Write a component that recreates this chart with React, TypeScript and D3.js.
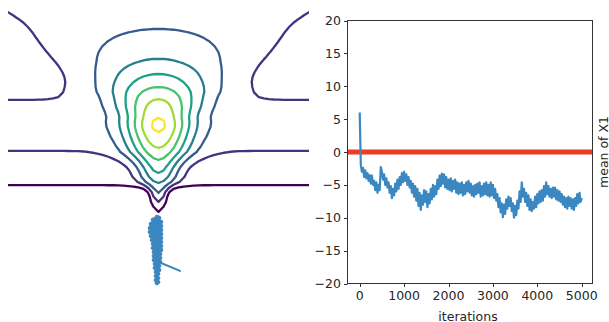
import React, { useMemo } from "react";
import * as d3 from "d3";

// ---------- Right panel data: running mean of X1 (one reading every 25 iterations) ----------
const TRACE_STEP = 25;
const traceMean = [
  6.0, -2.0, -3.0, -2.4, -3.8, -2.8, -4.0, -3.2, -4.4, -3.5,
  -4.8, -3.6, -5.0, -4.4, -5.8, -4.6, -6.2, -5.0, -5.8, -2.3,
  -3.0, -4.2, -3.4, -5.0, -4.0, -5.4, -4.6, -6.2, -5.2, -7.0,
  -5.6, -6.6, -4.8, -6.0, -4.2, -5.6, -3.8, -5.0, -3.2, -4.6,
  -3.0, -4.4, -3.4, -5.0, -3.8, -5.4, -4.4, -6.2, -4.8, -6.8,
  -5.2, -7.4, -5.6, -8.2, -6.2, -8.8, -6.6, -8.0, -5.8, -7.6,
  -6.0, -8.4, -6.4, -7.8, -5.6, -7.2, -5.0, -6.8, -5.2, -6.4,
  -4.2, -5.6, -3.6, -5.2, -3.3, -4.8, -3.4, -5.4, -3.8, -5.6,
  -4.2, -5.8, -4.0, -6.0, -4.4, -5.6, -4.2, -6.2, -4.6, -6.4,
  -4.8, -6.2, -4.6, -6.6, -5.0, -6.4, -4.6, -6.0, -4.4, -6.2,
  -4.8, -6.6, -5.2, -6.8, -5.0, -6.4, -4.8, -6.2, -4.6, -6.8,
  -5.2, -6.6, -4.8, -6.4, -4.6, -6.6, -5.0, -6.8, -4.6, -6.6,
  -5.0, -7.0, -5.6, -7.4, -6.4, -8.4, -7.0, -9.2, -7.8, -9.9,
  -8.0, -9.4, -7.2, -8.6, -6.8, -8.2, -7.0, -9.0, -7.8, -10.0,
  -8.2, -9.6, -7.4, -8.6, -6.0, -7.6, -4.6, -6.8, -5.6, -7.6,
  -6.2, -8.2, -6.6, -8.8, -7.2, -9.0, -7.6, -8.6, -6.8, -8.4,
  -6.4, -7.8, -6.0, -7.6, -5.8, -7.4, -5.2, -6.8, -4.6, -6.4,
  -5.2, -6.8, -5.6, -7.0, -5.4, -6.8, -5.4, -7.2, -5.8, -7.4,
  -6.0, -7.6, -6.4, -8.0, -6.8, -8.4, -7.0, -8.6, -6.8, -8.2,
  -7.0, -8.6, -7.2, -8.8, -7.0, -8.2, -6.4, -7.8, -6.2, -7.6,
  -7.0,
];
const trueMean = 0;
const yTickValues = [-20, -15, -10, -5, 0, 5, 10, 15, 20];
const xTickValues = [0, 1000, 2000, 3000, 4000, 5000];
const xLabel = "iterations";
const yLabel = "mean of X1";

// ---------- Left panel: density model knots ----------
const contourLevels = [1, 2, 3, 4, 5, 6, 7, 8];
// density height along the centre line x2 = 0, as a function of x1
const centerKnotsV = [-11, -6, -4.0, -3.33, -2.73, -2.07, -1.4, -0.53, 0.27, 1.33, 1.8, 2.27, 3.53, 4.33, 5.2, 6.2, 8.2, 9.6, 11];
const centerHeight = [-2.5, 0, 1.0, 2.0, 3.0, 4.0, 5.0, 6.0, 7.0, 8.0, 8.25, 8.0, 7.0, 6.0, 5.0, 4.0, 3.0, 2.6, 2.3];
// density height far from the centre line
const farKnotsV = [-11, -4, -3.0, -2.6, -2.27, -1, 0.07, 1.8, 3.47, 5, 6.33, 8, 10, 11];
const farHeight = [-12, -5, -1.5, 0.0, 1.0, 1.5, 2.0, 2.45, 2.0, 1.5, 1.3, 0.9, 0.3, 0.0];
// horizontal spread of the funnel
const widthKnotsV = [-11, -3.53, -2.87, -2.53, -2.27, -1.87, -1.2, -0.53, 0.13, 1.8, 2.33, 3.0, 3.67, 4.13, 4.6, 5.47, 6.33, 8.0, 8.67, 9.47, 10.0, 11];
const widthSigma = [0.8, 0.8, 0.55, 0.5, 0.6, 0.95, 1.0, 1.2, 1.48, 1.6, 1.65, 1.93, 2.25, 2.58, 2.86, 3.47, 4.4, 7.2, 9.0, 12.3, 15.0, 20];

// sampler path (x2 horizontal, x1 vertical)
const sampleX2 = [
  -0.100, 0.033, -0.365, 0.166, -0.498, 0.166, -0.565, 0.166, -0.565, 0.166,
  -0.498, 0.166, -0.432, 0.166, -0.365, 0.166, -0.365, 0.166, -0.299, 0.100,
  -0.299, 0.100, -0.299, 0.100, -0.233, 0.033, -0.233, 0.033, -0.166, -0.033,
  -0.166, -0.033, -0.166, -0.033, -0.100,
];
const sampleX1 = [
  -4.333, -4.400, -4.533, -4.667, -4.800, -4.933, -5.067, -5.200, -5.333, -5.467,
  -5.600, -5.733, -5.867, -6.000, -6.133, -6.267, -6.400, -6.533, -6.667, -6.800,
  -6.933, -7.067, -7.200, -7.333, -7.467, -7.600, -7.733, -7.867, -8.000, -8.133,
  -8.267, -8.400, -8.533, -8.667, -8.733,
];
const startX2 = [1.43, 0.17];
const startX1 = [-7.93, -7.4];

const FONT = "DejaVu Sans";
const BLUE = "#3a87c1";
const RED = "#ec3d22";
const AX = "#333333";
const TXT = "#262626";

// monotone cubic (Fritsch–Carlson) through knots
function monotone(xs: number[], ys: number[]) {
  const n = xs.length;
  const h: number[] = [], d: number[] = [], m: number[] = new Array(n);
  for (let i = 0; i < n - 1; i++) {
    h[i] = xs[i + 1] - xs[i];
    d[i] = (ys[i + 1] - ys[i]) / h[i];
  }
  m[0] = d[0];
  m[n - 1] = d[n - 2];
  for (let i = 1; i < n - 1; i++) {
    if (d[i - 1] * d[i] <= 0) m[i] = 0;
    else {
      const w1 = 2 * h[i] + h[i - 1], w2 = h[i] + 2 * h[i - 1];
      m[i] = (w1 + w2) / (w1 / d[i - 1] + w2 / d[i]);
    }
  }
  return (x: number) => {
    if (x <= xs[0]) return ys[0];
    if (x >= xs[n - 1]) return ys[n - 1];
    let i = d3.bisectRight(xs, x) - 1;
    i = Math.max(0, Math.min(n - 2, i));
    const t = (x - xs[i]) / h[i], t2 = t * t, t3 = t2 * t;
    return (2 * t3 - 3 * t2 + 1) * ys[i] + (t3 - 2 * t2 + t) * h[i] * m[i] +
      (-2 * t3 + 3 * t2) * ys[i + 1] + (t3 - t2) * h[i] * m[i + 1];
  };
}

export default function App() {
  const xL = d3.scaleLinear().domain([-10, 10]).range([8, 309]);
  const yL = d3.scaleLinear().domain([-10, 10]).range([302, 2]);

  const contourPaths = useMemo(() => {
    const N = 67, lo = -11, hi = 11, step = (hi - lo) / (N - 1);
    const C = monotone(centerKnotsV, centerHeight);
    const G = monotone(farKnotsV, farHeight);
    const S = monotone(widthKnotsV, widthSigma);
    const values: number[] = new Array(N * N);
    for (let j = 0; j < N; j++) {
      const v = hi - j * step;
      const g = G(v), k = C(v) - g, s = S(v);
      for (let i = 0; i < N; i++) {
        const x = lo + i * step;
        values[j * N + i] = g + k * Math.exp(-(x * x) / (2 * s * s));
      }
    }
    const cs = d3.contours().size([N, N]).thresholds(contourLevels)(values);
    return cs.map((c, idx) => {
      let d = "";
      c.coordinates.forEach((poly) => {
        poly.forEach((ring) => {
          ring.forEach((p, k) => {
            const x = lo + (p[0] - 0.5) * step;
            const v = hi - (p[1] - 0.5) * step;
            d += (k === 0 ? "M" : "L") + xL(x).toFixed(2) + "," + yL(v).toFixed(2);
          });
          d += "Z";
        });
      });
      return { d, color: d3.interpolateViridis(idx / (contourLevels.length - 1)) };
    });
  }, []);

  const sampleLine = d3.line<number>().x((_, i) => xL(sampleX2[i])).y((_, i) => yL(sampleX1[i]));
  const startLine = d3.line<number>().x((_, i) => xL(startX2[i])).y((_, i) => yL(startX1[i]));

  const left = 347.5, right = 592.5, top = 20.5, bottom = 283.5;
  const xR = d3.scaleLinear().domain([-274.8, 5243]).range([left, right]);
  const yR = d3.scaleLinear().domain([-20, 20]).range([bottom, top]);
  const traceLine = d3.line<number>().x((_, i) => xR(i * TRACE_STEP)).y((d) => yR(d));
  const fmt = (t: number) => (t < 0 ? "\u2212" + Math.abs(t) : String(t));

  return (
    <svg width={609} height={322} style={{ position: "absolute", left: 0, top: 0, background: "#fff" }}>
      <defs>
        <clipPath id="leftClip">
          <rect x={8} y={2} width={301} height={300} />
        </clipPath>
      </defs>
      <g clipPath="url(#leftClip)">
        {contourPaths.map((c, i) => (
          <path key={i} d={c.d} fill="none" stroke={c.color} strokeWidth={2.3} strokeLinejoin="round" />
        ))}
        <path d={startLine(startX2) || ""} fill="none" stroke={BLUE} strokeWidth={2} strokeLinecap="round" />
        <path d={sampleLine(sampleX2) || ""} fill="none" stroke={BLUE} strokeWidth={4.5} strokeLinejoin="round" strokeLinecap="round" />
      </g>

      <line x1={left} x2={right} y1={yR(trueMean)} y2={yR(trueMean)} stroke={RED} strokeWidth={5} />
      <path d={traceLine(traceMean) || ""} fill="none" stroke={BLUE} strokeWidth={2.2} strokeLinejoin="round" />
      <rect x={left} y={top} width={right - left} height={bottom - top} fill="none" stroke={AX} strokeWidth={1} />
      {yTickValues.map((t) => (
        <g key={"y" + t}>
          <line x1={left - 3.5} x2={left} y1={Math.round(yR(t)) + 0.5} y2={Math.round(yR(t)) + 0.5} stroke={AX} strokeWidth={1} />
          <text x={left - 6.5} y={yR(t)} dy="0.36em" textAnchor="end" fontFamily={FONT} fontSize={12.5} fill={TXT}>
            {fmt(t)}
          </text>
        </g>
      ))}
      {xTickValues.map((t) => (
        <g key={"x" + t}>
          <line x1={Math.round(xR(t)) + 0.5} x2={Math.round(xR(t)) + 0.5} y1={bottom} y2={bottom + 3.5} stroke={AX} strokeWidth={1} />
          <text x={xR(t)} y={300} textAnchor="middle" fontFamily={FONT} fontSize={12.5} fill={TXT}>
            {fmt(t)}
          </text>
        </g>
      ))}
      <text x={(left + right) / 2 - 2} y={320.5} textAnchor="middle" fontFamily={FONT} fontSize={12.5} fill={TXT}>
        {xLabel}
      </text>
      <text transform={`translate(607.5, ${(top + bottom) / 2}) rotate(-90)`} textAnchor="middle" fontFamily={FONT} fontSize={12.5} fill={TXT}>
        {yLabel}
      </text>
    </svg>
  );
}
